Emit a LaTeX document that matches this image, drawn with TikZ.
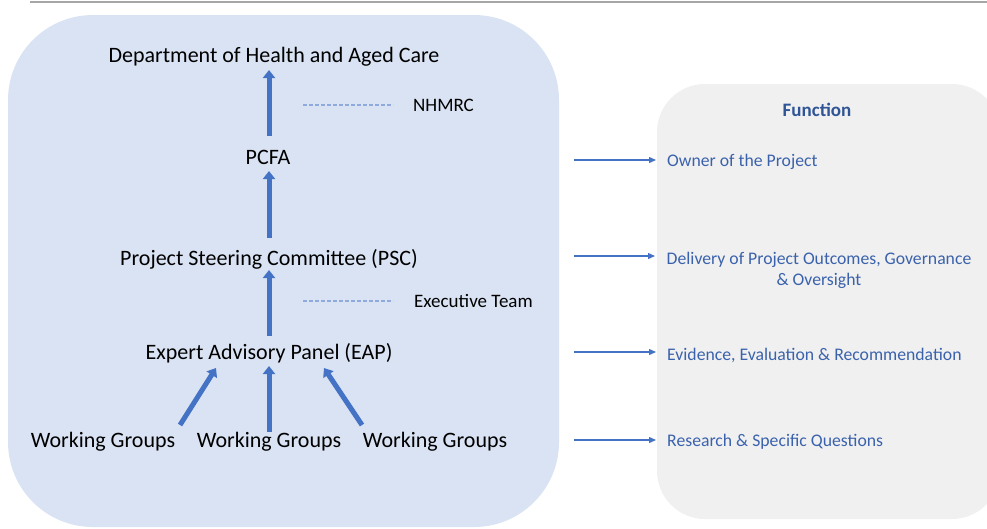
\documentclass[tikz,border=0pt]{standalone}
\usepackage{fontspec}
\setmainfont{Carlito}
\usetikzlibrary{arrows.meta}
\definecolor{panelblue}{HTML}{DAE3F3}
\definecolor{panelgray}{HTML}{F0F0F0}
\definecolor{arrowblue}{HTML}{4472C4}
\definecolor{funcblue}{HTML}{2F5597}
\definecolor{functext}{HTML}{3A62AC}
\definecolor{dashblue}{HTML}{8FAADC}
\definecolor{rulegray}{HTML}{A6A6A6}
\begin{document}
\begin{tikzpicture}[x=1pt,y=-1pt,
  org/.style={font=\fontsize{22}{26}\selectfont, text=black, inner sep=0pt, yshift=-2pt},
  side/.style={font=\fontsize{19}{22}\selectfont, text=black, inner sep=0pt, anchor=west, yshift=-1pt},
  func/.style={font=\fontsize{17.7}{21}\selectfont, text=functext, inner sep=0pt, yshift=-2pt},
  uparrow/.style={draw=arrowblue, line width=5pt, -{Triangle[width=12pt,length=8pt]}},
  linkarrow/.style={draw=arrowblue, line width=1.3pt, -{Triangle[width=6pt,length=7pt]}},
  dashlink/.style={draw=dashblue, line width=1.2pt, dash pattern=on 3.5pt off 2.5pt}]
  \useasboundingbox (0,0) rectangle (987,528);

  % header rule
  \draw[rulegray, line width=2pt] (30,2) -- (987,2);

  % panels
  \fill[panelblue, rounded corners=85pt] (8,15) rectangle (559,527);
  \fill[panelgray, rounded corners=48pt] (657,84) rectangle (1000,519);

  % organisation chain
  \node[org] (doh) at (274,55) {Department of Health and Aged Care};
  \node[org] (pcfa) at (268,155) {PCFA};
  \node[org] (psc) at (269,257) {Project Steering Committee (PSC)};
  \node[org] (eap) at (269,351) {Expert Advisory Panel (EAP)};
  \node[org] (wg1) at (103,440) {Working Groups};
  \node[org] (wg2) at (269,440) {Working Groups};
  \node[org] (wg3) at (435,440) {Working Groups};

  \coordinate (a1s) at (269,136); \coordinate (a1e) at (269,70);
  \coordinate (a2s) at (269,238); \coordinate (a2e) at (269,171);
  \coordinate (a3s) at (269,336); \coordinate (a3e) at (269,270);
  \draw[uparrow] (a1s) -- (a1e);
  \draw[uparrow] (a2s) -- (a2e);
  \draw[uparrow] (a3s) -- (a3e);

  \coordinate (w1s) at (180,425); \coordinate (w1e) at (216,368);
  \coordinate (w2s) at (269,432); \coordinate (w2e) at (269,366);
  \coordinate (w3s) at (362,425); \coordinate (w3e) at (324,368);
  \draw[uparrow] (w1s) -- (w1e);
  \draw[uparrow] (w2s) -- (w2e);
  \draw[uparrow] (w3s) -- (w3e);

  % advisory bodies beside the chain
  \node[side] (nhmrc) at (413,104) {NHMRC};
  \node[side] (exec) at (414,300) {Executive Team};
  \coordinate (d1) at (303,105);
  \coordinate (d2) at (303,301);
  \draw[dashlink] (d1) -- ([xshift=-20pt]d1 -| nhmrc.west);
  \draw[dashlink] (d2) -- ([xshift=-21pt]d2 -| exec.west);

  % function column
  \node[font=\fontsize{19}{22}\selectfont\bfseries, text=funcblue, inner sep=0pt, yshift=-1pt] (fhead) at (817,109) {Function};
  \node[func, anchor=west] (f1) at (667,160) {Owner of the Project};
  \node[func, align=center] (f2) at (819,268) {Delivery of Project Outcomes, Governance\\\& Oversight};
  \node[func, anchor=west] (f3) at (667,353) {Evidence, Evaluation \& Recommendation};
  \node[func, anchor=west] (f4) at (667,440) {Research \& Specific Questions};

  \coordinate (l1) at (574,160);
  \coordinate (l2) at (574,256);
  \coordinate (l3) at (574,352);
  \coordinate (l4) at (574,440);
  \draw[linkarrow] (l1) -- ([xshift=-11pt]l1 -| f1.west);
  \draw[linkarrow] (l2) -- (655,256);
  \draw[linkarrow] (l3) -- ([xshift=-11pt]l3 -| f3.west);
  \draw[linkarrow] (l4) -- ([xshift=-11pt]l4 -| f4.west);
\end{tikzpicture}
\end{document}
